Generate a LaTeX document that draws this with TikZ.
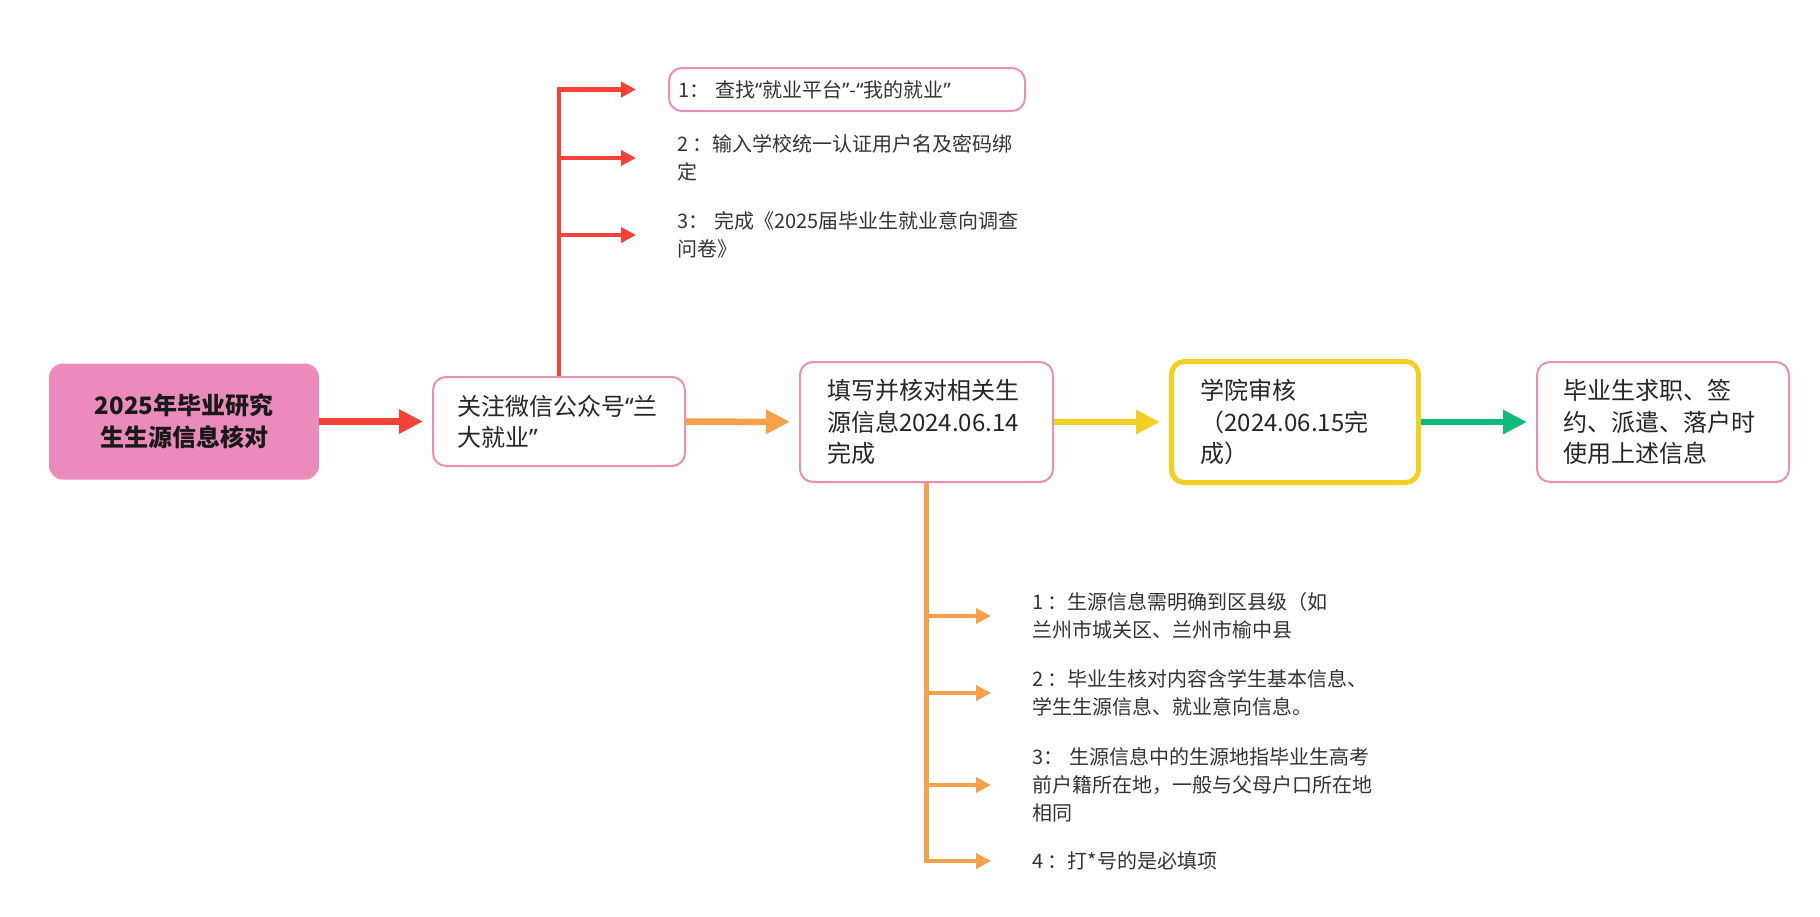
\documentclass[tikz,border=0pt]{standalone}
\usepackage{fontspec}
\setmainfont{Noto Sans CJK SC}
\newfontfamily\latinfont{Noto Sans}
\usetikzlibrary{arrows.meta}
\definecolor{LzuRot}{RGB}{245,66,55}
\definecolor{LzuOrange}{RGB}{245,160,75}
\definecolor{LzuGelb}{RGB}{242,208,35}
\definecolor{LzuGruen}{RGB}{16,185,120}
\definecolor{LzuRosa}{RGB}{235,139,187}
\definecolor{LzuRosaRand}{RGB}{233,141,185}
\newcommand{\openq}{{\latinfont “}}
\newcommand{\closeq}{{\latinfont ”}}

\begin{document}
\begin{tikzpicture}[x=1pt, y=-1pt,
  rootbox/.style={fill=LzuRosa, rounded corners=14pt, minimum width=270pt, minimum height=116pt, align=center, font=\bfseries\fontsize{24}{32.5}\selectfont, text=black!90},
  mainbox/.style={draw=LzuRosaRand, line width=2pt, rounded corners=13pt, fill=white, align=left, font=\fontsize{24}{31.3}\selectfont, text=black!85},
  subitem/.style={anchor=west, align=left, inner xsep=9pt, font=\fontsize{20}{28}\selectfont, text=black!80},
  mainarrow/.style={line width=6.5pt, -{Triangle[length=24pt,width=23pt]}, shorten >=9pt},
  branch/.style={line width=4.5pt, -{Triangle[length=15pt,width=15pt]}, shorten >=32pt}]
\useasboundingbox (0,0) rectangle (1820,916);

\node[rootbox] (root) at (184,421.5) {2025年毕业研究\\生生源信息核对};
\node[mainbox, text width=204pt, inner xsep=24pt, minimum height=89pt] (follow) at (559,421.5) {关注微信公众号\openq 兰\\大就业\closeq};
\node[mainbox, text width=199pt, inner xsep=27pt, minimum height=120pt] (fill) at (926.5,422) {填写并核对相关生\\源信息2024.06.14\\完成};
\node[mainbox, draw=LzuGelb, line width=5pt, text width=189pt, inner xsep=29pt, minimum height=121pt] (review) at (1295,422) {学院审核\\（2024.06.15完\\成）};
\node[mainbox, text width=200pt, inner xsep=26pt, minimum height=120pt] (use) at (1663,422) {毕业生求职、签\\约、派遣、落户时\\使用上述信息};

\node[subitem, draw=LzuRosaRand, line width=2pt, rounded corners=13pt, text width=338pt, minimum height=43pt] (find) at (668,89.5) {1：\hspace{6pt}查找\openq 就业平台\closeq-\openq 我的就业\closeq};
\node[subitem] (bind) at (668,158) {2 ：输入学校统一认证用户名及密码绑\\定};
\node[subitem] (survey) at (668,235) {3：\hspace{6pt}完成《2025届毕业生就业意向调查\\问卷》};

\node[subitem] (county) at (1023,616) {1 ：生源信息需明确到区县级（如\\兰州市城关区、兰州市榆中县};
\node[subitem] (content) at (1023,693) {2 ：毕业生核对内容含学生基本信息、\\学生生源信息、就业意向信息。};
\node[subitem] (origin) at (1023,785) {3：\hspace{6pt}生源信息中的生源地指毕业生高考\\前户籍所在地，一般与父母户口所在地\\相同};
\node[subitem] (must) at (1023,861) {4 ：打*号的是必填项};

\draw[mainarrow, LzuRot] (root) -- (follow);
\draw[mainarrow, LzuOrange] (follow) -- (fill);
\draw[mainarrow, LzuGelb] (fill) -- (review);
\draw[mainarrow, LzuGruen] (review) -- (use);

\draw[branch, LzuRot] (follow.north) |- (find.west);
\foreach \n in {bind, survey}
  \draw[branch, LzuRot] (follow.north |- \n.west) -- (\n.west);
\draw[branch, LzuOrange] (fill.south) |- (must.west);
\foreach \n in {county, content, origin}
  \draw[branch, LzuOrange] (fill.south |- \n.west) -- (\n.west);
\end{tikzpicture}
\end{document}
